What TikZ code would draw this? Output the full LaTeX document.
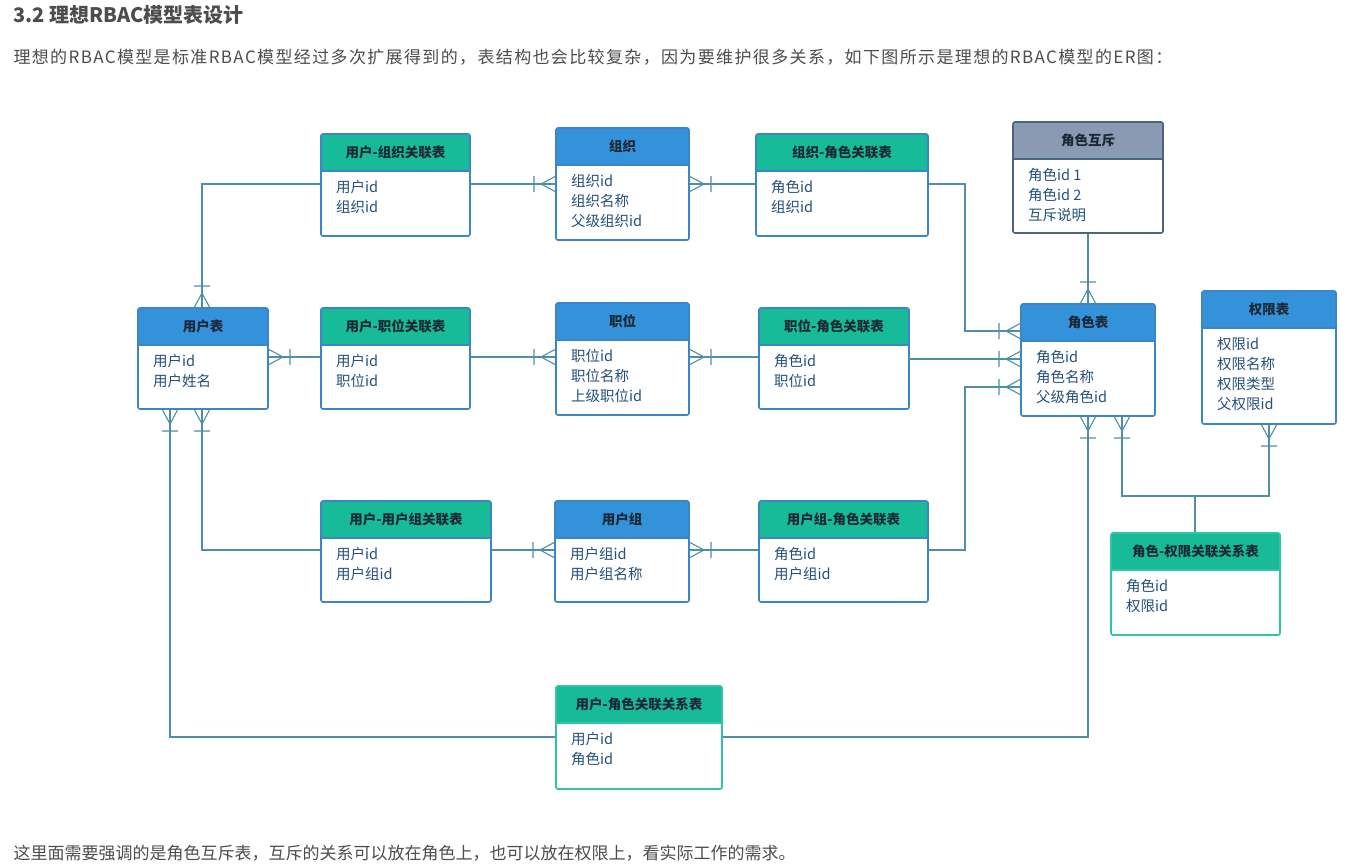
\documentclass[tikz,border=0pt]{standalone}
\usepackage{fontspec}
\setmainfont{Noto Sans CJK SC}
\begin{document}
\begin{tikzpicture}[x=1pt,y=-1pt,
  conn/.style={draw=lk,line width=1.1pt},
  htxt/.style={font=\bfseries\fontsize{13.5}{16}\selectfont,text=hd},
  ftxt/.style={font=\fontsize{14.5}{20}\selectfont,text=fd,align=left,anchor=north west,inner sep=0pt}]
\definecolor{bh}{HTML}{3392DA}
\definecolor{gh}{HTML}{17BB98}
\definecolor{gr}{HTML}{8A9AB2}
\definecolor{bb}{HTML}{3A86C6}
\definecolor{gb}{HTML}{2EC4A5}
\definecolor{db}{HTML}{4B6480}
\definecolor{lk}{HTML}{4F8FA5}
\definecolor{hd}{HTML}{1C2836}
\definecolor{fd}{HTML}{24507A}
\definecolor{tx}{HTML}{4D4D4D}
\useasboundingbox (0,0) rectangle (1362,867);
\fill[white] (0,0) rectangle (1362,867);
\newcommand{\tbl}[9]{%
  \node[draw=none,minimum width={(#4-#2)*1pt},minimum height={(#5-#3)*1pt},anchor=north west,inner sep=0pt] (#1) at (#2,#3) {};
  \fill[#8,rounded corners=2pt] (#2,#3) rectangle (#4,#3+37);
  \draw[#9,line width=1.6pt,rounded corners=2pt] (#2,#3) rectangle (#4,#5);
  \draw[#9,line width=1.2pt] (#2,#3+37) -- (#4,#3+37);
  \node[htxt] (#1t) at ({(#2+#4)/2},#3+18.5) {#6};
  \node[ftxt] (#1f) at (#2+15,#3+46) {#7};}
\newcommand{\crL}[2]{\draw[conn] (#1,#2-8) -- (#1-15,#2) -- (#1,#2+8) (#1-22,#2-8) -- (#1-22,#2+8);}
\newcommand{\crR}[2]{\draw[conn] (#1,#2-8) -- (#1+15,#2) -- (#1,#2+8) (#1+22,#2-8) -- (#1+22,#2+8);}
\newcommand{\crU}[2]{\draw[conn] (#1-8,#2) -- (#1,#2-15) -- (#1+8,#2) (#1-8,#2-22) -- (#1+8,#2-22);}
\newcommand{\crD}[2]{\draw[conn] (#1-8,#2) -- (#1,#2+15) -- (#1+8,#2) (#1-8,#2+22) -- (#1+8,#2+22);}

\node[anchor=west,font=\bfseries\fontsize{20}{24}\selectfont,text=tx] (title) at (10,15) {3.2 理想RBAC模型表设计};
\node[anchor=west,font=\fontsize{17}{20}\selectfont\addfontfeature{LetterSpace=8},text=tx] (para) at (10,57) {理想的RBAC模型是标准RBAC模型经过多次扩展得到的，表结构也会比较复杂，因为要维护很多关系，如下图所示是理想的RBAC模型的ER图：};
\node[anchor=west,font=\fontsize{17}{20}\selectfont,text=tx] (foot) at (10,853) {这里面需要强调的是角色互斥表，互斥的关系可以放在角色上，也可以放在权限上，看实际工作的需求。};

\draw[conn] (202,308) -- (202,184) -- (321,184);
\draw[conn] (470,184) -- (556,184);
\draw[conn] (689,184) -- (756,184);
\draw[conn] (928,184) -- (965,184) -- (965,331) -- (1021,331);
\draw[conn] (268,357) -- (321,357);
\draw[conn] (470,357) -- (556,357);
\draw[conn] (689,357) -- (759,357);
\draw[conn] (909,359) -- (1021,359);
\draw[conn] (928,550) -- (965,550) -- (965,387) -- (1021,387);
\draw[conn] (202,409) -- (202,550) -- (321,550);
\draw[conn] (491,550) -- (555,550);
\draw[conn] (689,550) -- (759,550);
\draw[conn] (170,409) -- (170,737) -- (556,737);
\draw[conn] (722,737) -- (1088,737) -- (1088,416);
\draw[conn] (1088,233) -- (1088,304);
\draw[conn] (1122,416) -- (1122,496) -- (1269,496) -- (1269,424);
\draw[conn] (1195,496) -- (1195,533);

\tbl{uo}{321}{134}{470}{236}{用户-组织关联表}{用户id\\组织id}{gh}{bb}
\tbl{org}{556}{128}{689}{240}{组织}{组织id\\组织名称\\父级组织id}{bh}{bb}
\tbl{or}{756}{134}{928}{236}{组织-角色关联表}{角色id\\组织id}{gh}{bb}
\tbl{mx}{1013}{122}{1163}{233}{角色互斥}{角色id 1\\角色id 2\\互斥说明}{gr}{db}
\tbl{user}{138}{308}{268}{409}{用户表}{用户id\\用户姓名}{bh}{bb}
\tbl{up}{321}{308}{470}{409}{用户-职位关联表}{用户id\\职位id}{gh}{bb}
\tbl{pos}{556}{303}{689}{415}{职位}{职位id\\职位名称\\上级职位id}{bh}{bb}
\tbl{pr}{759}{308}{909}{409}{职位-角色关联表}{角色id\\职位id}{gh}{bb}
\tbl{role}{1021}{304}{1155}{416}{角色表}{角色id\\角色名称\\父级角色id}{bh}{bb}
\tbl{perm}{1202}{291}{1336}{424}{权限表}{权限id\\权限名称\\权限类型\\父权限id}{bh}{bb}
\tbl{ug}{321}{501}{491}{602}{用户-用户组关联表}{用户id\\用户组id}{gh}{bb}
\tbl{grp}{555}{501}{689}{602}{用户组}{用户组id\\用户组名称}{bh}{bb}
\tbl{gr}{759}{501}{928}{602}{用户组-角色关联表}{角色id\\用户组id}{gh}{bb}
\tbl{rp}{1111}{533}{1280}{635}{角色-权限关联关系表}{角色id\\权限id}{gh}{gb}
\tbl{ur}{556}{686}{722}{789}{用户-角色关联关系表}{用户id\\角色id}{gh}{gb}

\crU{202}{308}
\crL{556}{184}
\crR{689}{184}
\crL{1021}{331}
\crR{268}{357}
\crL{556}{357}
\crR{689}{357}
\crL{1021}{359}
\crL{1021}{387}
\crD{202}{409}
\crD{170}{409}
\crL{555}{550}
\crR{689}{550}
\crD{1088}{416}
\crU{1088}{304}
\crD{1122}{416}
\crD{1269}{424}
\end{tikzpicture}
\end{document}
